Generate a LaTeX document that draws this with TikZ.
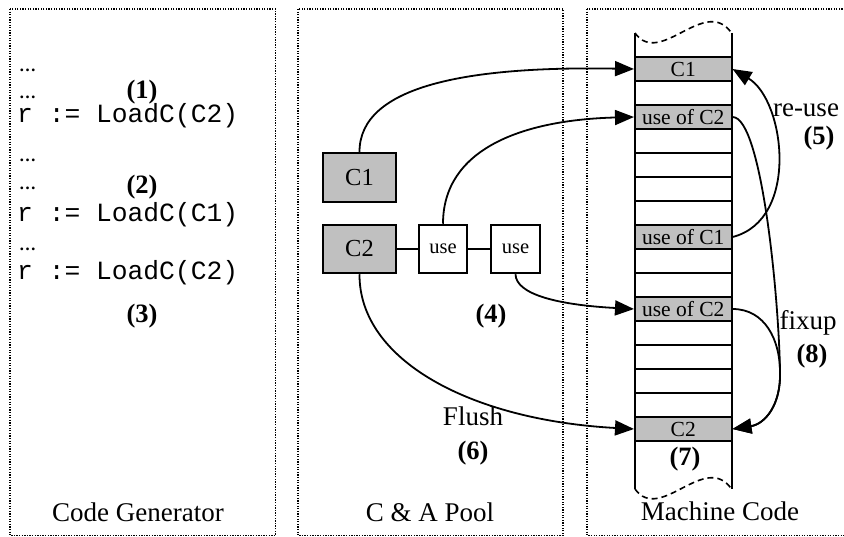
\documentclass[tikz,border=0pt]{standalone}
\usepackage{fontspec}
\setmainfont{Liberation Serif}
\setmonofont{Liberation Mono}
\usetikzlibrary{arrows.meta}
\definecolor{cellgray}{RGB}{192,192,192}
\begin{document}
\begin{tikzpicture}[x=1pt,y=-1pt,
 panel/.style={draw, line width=1.3pt, dash pattern=on 1.3pt off 1.3pt},
 lbl/.style={anchor=base, inner sep=0pt, font=\fontsize{27}{30}\selectfont},
 num/.style={anchor=base, inner sep=0pt, font=\fontsize{26.5}{30}\selectfont\bfseries},
 code/.style={anchor=base west, inner sep=0pt, font=\fontsize{26.3}{30}\ttfamily},
 dotsl/.style={anchor=base west, inner sep=0pt, font=\fontsize{17}{20}\selectfont\bfseries},
 cell/.style={draw, line width=2pt, fill=cellgray, minimum width=96.5pt, minimum height=24pt, inner sep=0pt, font=\fontsize{21.5}{24}\selectfont},
 pbox/.style={draw, line width=2pt, inner sep=0pt, minimum height=48.5pt},
 conn/.style={line width=1.8pt},
 arr/.style={conn, -{Triangle[length=19pt,width=15pt]}},
 wave/.style={line width=1.6pt, dash pattern=on 6pt off 4pt},
]
\useasboundingbox (0,0) rectangle (844,537);
\clip (0,0) rectangle (844,537);

% panels
\draw[panel] (10,9) rectangle (275.5,535.5);
\draw[panel] (298,9) rectangle (563,535.5);
\draw[panel] (587,9) rectangle (850,535.5);

% code generator
\node[dotsl] (e1) at (19,72) {…};
\node[dotsl] (e2) at (19,99) {…};
\node[code] (l1) at (17,123) {r := LoadC(C2)};
\node[dotsl] (e3) at (19,162) {…};
\node[dotsl] (e4) at (19,190) {…};
\node[code] (l2) at (17,222) {r := LoadC(C1)};
\node[dotsl] (e5) at (19,251) {…};
\node[code] (l3) at (17,280) {r := LoadC(C2)};
\node[num] (n1) at (142,99) {(1)};
\node[num] (n2) at (142,194) {(2)};
\node[num] (n3) at (142,323) {(3)};
\node[lbl] (cg) at (138,521) {Code Generator};

% pool
\node[pbox, fill=cellgray, minimum width=73pt, font=\fontsize{24.5}{28}\selectfont] (pc1) at (359.5,177.5) {C1};
\node[pbox, fill=cellgray, minimum width=73pt, font=\fontsize{24.5}{28}\selectfont] (pc2) at (359.5,249) {C2};
\node[pbox, fill=white, minimum width=48pt, font=\fontsize{20.5}{24}\selectfont] (pu1) at (443,249) {use};
\node[pbox, fill=white, minimum width=49pt, font=\fontsize{20.5}{24}\selectfont] (pu2) at (515.5,249) {use};
\draw[line width=2pt] (pc2) -- (pu1);
\draw[line width=2pt] (pu1) -- (pu2);
\node[num] (n4) at (491,323) {(4)};
\node[lbl] (fl) at (473,426) {Flush};
\node[num] (n6) at (473,459) {(6)};
\node[lbl] (cap) at (430,521) {C \& A Pool};

% machine code column
\draw[line width=2pt] (635,33) -- (635,489);
\draw[line width=2pt] (731.5,33) -- (731.5,489);
\foreach \i in {0,...,16} \draw[line width=2pt] (635,{57+24*\i}) -- (731.5,{57+24*\i});
\draw[wave] (635,33) .. controls (660,68) and (705,-5) .. (731.5,33);
\draw[wave] (635,489) .. controls (660,524) and (705,451) .. (731.5,489);
\node[cell] (m0) at (683.25,69) {C1};
\node[cell] (m2) at (683.25,117) {use of C2};
\node[cell] (m7) at (683.25,237) {use of C1};
\node[cell] (m10) at (683.25,309) {use of C2};
\node[cell] (m15) at (683.25,429) {C2};
\node[num] (n7) at (685,465) {(7)};
\node[lbl] (mc) at (720,520) {Machine Code};
\node[lbl] (ru) at (806,117) {re-use};
\node[num] (n5) at (819,145) {(5)};
\node[lbl] (fu) at (808,330) {fixup};
\node[num] (n8) at (812,363) {(8)};

% connectors
\draw[arr] (pc1.north) .. controls (359,85) and (470,66) .. (m0.west);
\draw[arr] (pu1.north) .. controls (443,150) and (520,120) .. (m2.west);
\draw[arr] (pu2.south) .. controls (516,295) and (560,305) .. (m10.west);
\draw[arr] (pc2.south) .. controls (359,360) and (470,420) .. (m15.west);
\draw[arr] (m7.east) .. controls (800,220) and (785,100) .. (m0.east);
\coordinate (fx) at (780,372);
\draw[arr] (m2.east) .. controls (762,117) and (779,300) .. (fx) .. controls (781,405) and (765,424) .. (m15.east);
\draw[arr] (m10.east) .. controls (765,309) and (780,340) .. (fx) .. controls (781,405) and (765,424) .. (m15.east);
\end{tikzpicture}
\end{document}
